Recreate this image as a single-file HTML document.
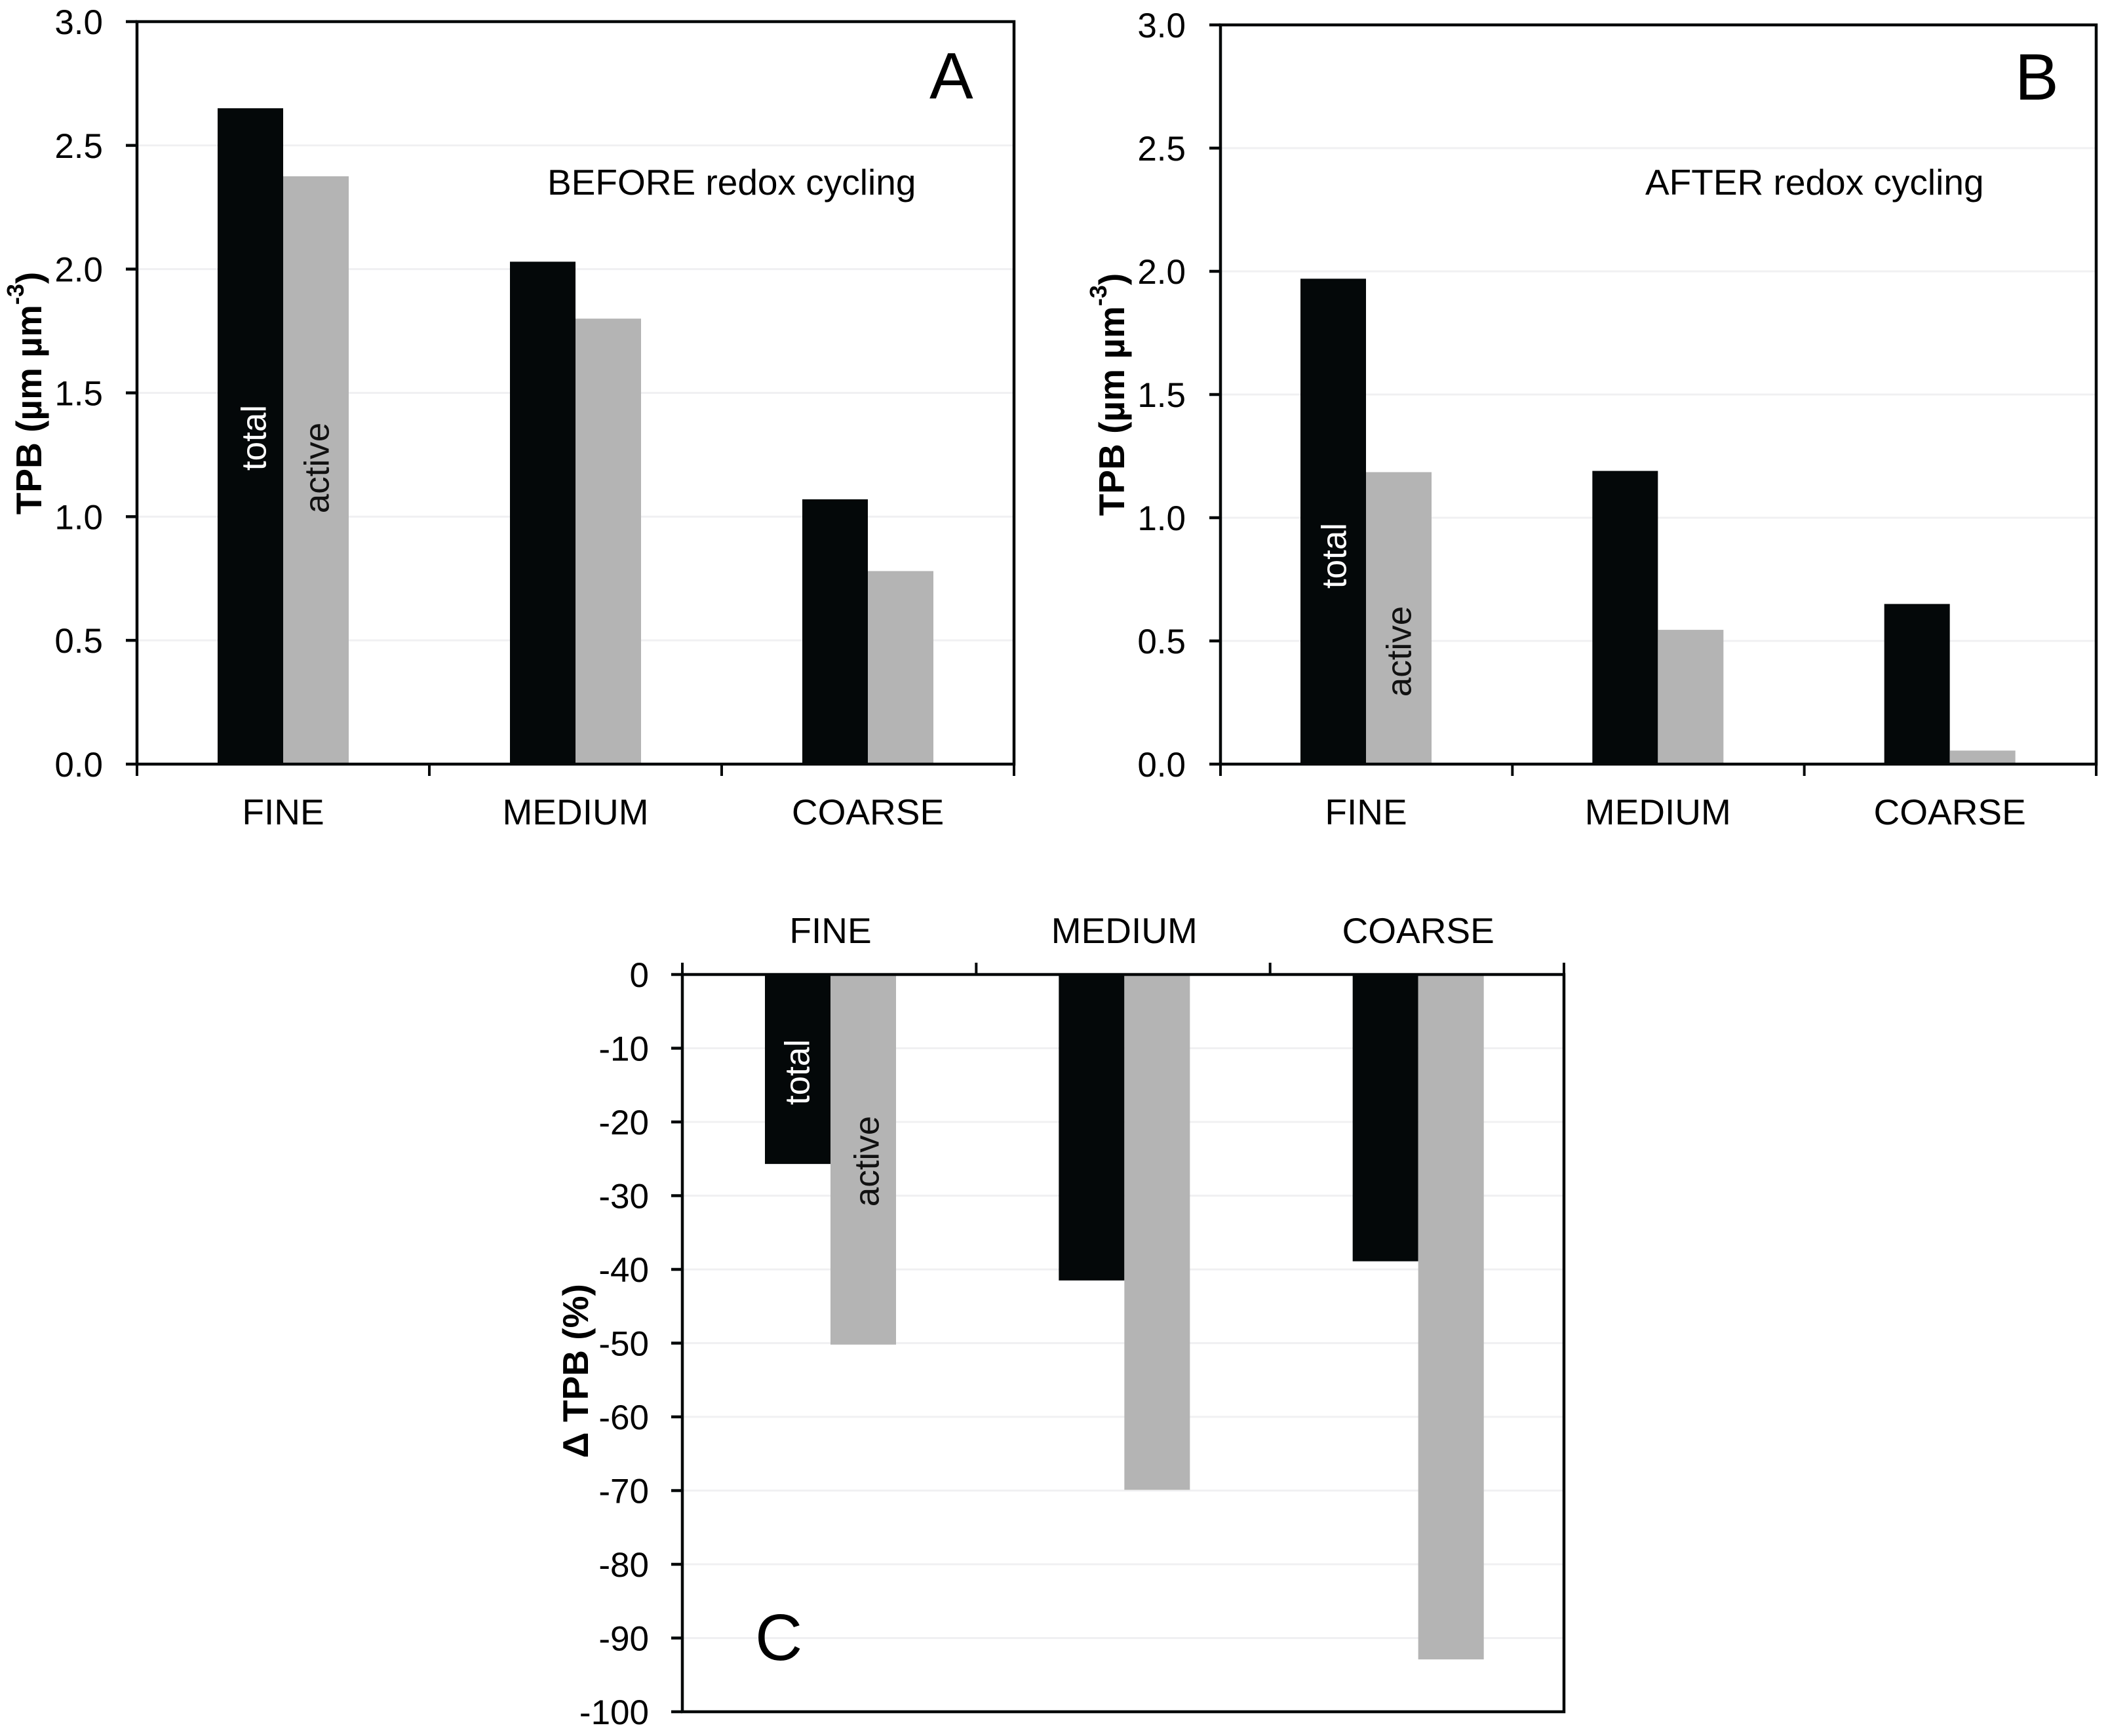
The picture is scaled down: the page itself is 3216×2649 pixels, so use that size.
<!DOCTYPE html>
<html><head><meta charset="utf-8"><style>
html,body{margin:0;padding:0;background:#fff}
svg{display:block}
text{font-family:"Liberation Sans",Arial,sans-serif}
</style></head><body>
<svg id="fig" xmlns="http://www.w3.org/2000/svg" width="3216" height="2649" viewBox="0 0 3216 2649"></svg>
<script>
const categories = ["FINE","MEDIUM","COARSE"];
const beforeTotal = [2.65, 2.03, 1.07];
const beforeActive = [2.375, 1.80, 0.78];
const afterTotal = [1.97, 1.19, 0.65];
const afterActive = [1.185, 0.545, 0.055];
const deltaTotal = [-25.7, -41.5, -38.9];
const deltaActive = [-50.2, -69.9, -92.9];
const tpbTicks = [0, 0.5, 1.0, 1.5, 2.0, 2.5, 3.0];
const tpbTickLabels = ["0.0","0.5","1.0","1.5","2.0","2.5","3.0"];
const deltaTicks = [0,-10,-20,-30,-40,-50,-60,-70,-80,-90,-100];
const deltaTickLabels = ["0","-10","-20","-30","-40","-50","-60","-70","-80","-90","-100"];

const NS = "http://www.w3.org/2000/svg";
const svg = document.getElementById("fig");
function mk(tag, attrs, parent, txt){
  const e = document.createElementNS(NS, tag);
  for (const k in attrs) e.setAttribute(k, attrs[k]);
  if (txt !== undefined) e.textContent = txt;
  (parent || svg).appendChild(e);
  return e;
}

function panel(o){
  const g = mk("g", {});
  
  
  const yScale = v => o.y0 + (v - o.vmin) / (o.vmax - o.vmin) * (o.y1 - o.y0);
  const catW = (o.x1 - o.x0) / categories.length;
  o.ticks.forEach((t) => {
    const gl = mk("line", {x1:o.x0, x2:o.x1, y1:yScale(t), y2:yScale(t), stroke:"#f0f0f2", "stroke-width":3}, g);
    
    
  });
  const zeroY = yScale(0);
  categories.forEach((c, i) => {
    const bx = o.x0 + catW * i + o.barOff;
    [[o.s1, "#040809", "bar-total"], [o.s2, "#b4b4b4", "bar-active"]].forEach(([arr, col, nm], j) => {
      const vy = yScale(arr[i]);
      const r = mk("rect", {x:bx + j * o.barW, y:Math.min(vy, zeroY), width:o.barW, height:Math.abs(vy - zeroY), fill:col}, g);
      
      
    });
  });
  const fr = mk("rect", {x:o.x0, y:Math.min(o.y0,o.y1), width:o.x1-o.x0, height:Math.abs(o.y1-o.y0), fill:"none", stroke:"#040809", "stroke-width":4.5}, g);
  
  
  o.ticks.forEach((t, k) => {
    const y = yScale(t);
    mk("line", {x1:o.x0 - 17, x2:o.x0, y1:y, y2:y, stroke:"#040809", "stroke-width":4.5}, g);
    const tl = mk("text", {x:o.labelX, y:y + 19, "text-anchor":"end", "font-size":53, fill:"#000"}, g, o.tickLabels[k]);
    
    
  });
  for (let i = 0; i <= categories.length; i++){
    const x = o.x0 + catW * i;
    mk("line", {x1:x, x2:x, y1:o.catAxisY, y2:o.catAxisY + o.catTickDir * 18, stroke:"#040809", "stroke-width":4}, g);
  }
  categories.forEach((c, i) => {
    const cl = mk("text", {x:o.x0 + catW * i + o.barOff + o.barW, y:o.catLabelY, "text-anchor":"middle", "font-size":55, fill:"#000"}, g, c);
    
    
  });
  const yt = mk("text", {x:0, y:0, transform:`translate(${o.titleX},${o.titleY}) rotate(-90)`, "text-anchor":"middle", "dominant-baseline":"central", "font-size":55, "font-weight":"bold", fill:"#000"}, g);
  
  
  if (o.delta){
    yt.textContent = "Δ TPB (%)";
  } else {
    mk("tspan", {}, yt, "TPB (µm µm");
    mk("tspan", {"baseline-shift":"super", "font-size":36}, yt, "-3");
    mk("tspan", {}, yt, ")");
  }
  const bl1 = mk("text", {x:0, y:0, transform:`translate(${o.totX},${o.totY}) rotate(-90)`, "text-anchor":"middle", "dominant-baseline":"central", "font-size":53, fill:"#fff"}, g, "total");
  
  
  const bl2 = mk("text", {x:0, y:0, transform:`translate(${o.actX},${o.actY}) rotate(-90)`, "text-anchor":"middle", "dominant-baseline":"central", "font-size":53, fill:"#111"}, g, "active");
  
  
  const pl = mk("text", {x:o.letterX, y:o.letterY, "text-anchor":"start", "font-size":100, fill:"#000"}, g, o.letter);
  
  
  if (o.note){
    const nt = mk("text", {x:o.noteX, y:297, "font-size":55, fill:"#000"}, g, o.note);
    
    
  }
}

panel({name:"panel-a-before", x0:209, x1:1547, y0:1166, y1:33, vmin:0, vmax:3, ticks:tpbTicks, tickLabels:tpbTickLabels,
  s1:beforeTotal, s2:beforeActive, barOff:123, barW:100, labelX:157, catAxisY:1166, catTickDir:1, catLabelY:1258,
  titleX:44, titleY:600, totX:388, totY:668, actX:484, actY:714, letter:"A", letterX:1418, letterY:150,
  note:"BEFORE redox cycling", noteX:835});
panel({name:"panel-b-after", x0:1862, x1:3198, y0:1166, y1:38, vmin:0, vmax:3, ticks:tpbTicks, tickLabels:tpbTickLabels,
  s1:afterTotal, s2:afterActive, barOff:122, barW:100, labelX:1809, catAxisY:1166, catTickDir:1, catLabelY:1258,
  titleX:1696, titleY:602, totX:2036, totY:848, actX:2135, actY:994, letter:"B", letterX:3074, letterY:152,
  note:"AFTER redox cycling", noteX:2510});
panel({name:"panel-c-delta", delta:true, x0:1041, x1:2386, y0:1487, y1:2612, vmin:0, vmax:-100, ticks:deltaTicks, tickLabels:deltaTickLabels,
  s1:deltaTotal, s2:deltaActive, barOff:126, barW:100, labelX:990, catAxisY:1487, catTickDir:-1, catLabelY:1439,
  titleX:878, titleY:2092, totX:1217, totY:1636, actX:1323, actY:1772, letter:"C", letterX:1152, letterY:2533});
</script>
</body></html>
